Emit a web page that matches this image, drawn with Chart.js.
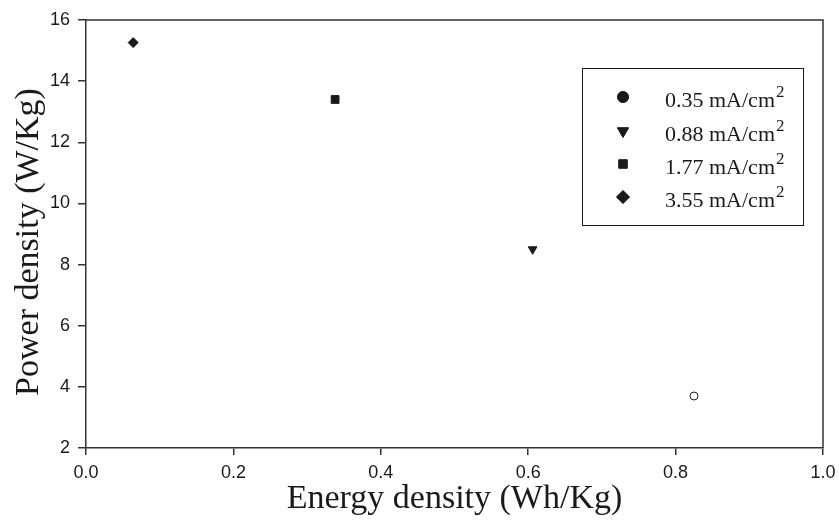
<!DOCTYPE html>
<html>
<head>
<meta charset="utf-8">
<script src="https://cdn.jsdelivr.net/npm/chart.js@4.4.1/dist/chart.umd.min.js"></script>
<style>
  html, body { margin: 0; padding: 0; background: #fff; }
  #wrap { width: 839px; height: 520px; position: relative; }
</style>
</head>
<body>
<div id="wrap"><canvas id="c" width="839" height="520"></canvas></div>
<script>
// Current densities (legend labels) and measured energy / power densities
const currentLabels = ['0.35 mA/cm', '0.88 mA/cm', '1.77 mA/cm', '3.55 mA/cm'];
const energyDensity = [0.825, 0.606, 0.338, 0.064];   // Wh/Kg
const powerDensity  = [3.7, 8.5, 13.4, 15.26];         // W/Kg
const markerStyles  = ['circle', 'triangle', 'rect', 'rectRot'];
const xTicks = [0.0, 0.2, 0.4, 0.6, 0.8, 1.0];
const yTicks = [2, 4, 6, 8, 10, 12, 14, 16];

const ink = '#1a1a1a';
const axisInk = '#333333';

const pointRadius = [4, 5, 5.5, 5];
const legendRadius = [5.5, 6.5, 6, 6.5];

const datasets = currentLabels.map((lab, i) => ({
  label: lab,
  data: [{ x: energyDensity[i], y: powerDensity[i] }],
  pointStyle: markerStyles[i],
  rotation: markerStyles[i] === 'triangle' ? 180 : 0,
  pointRadius: pointRadius[i],
  pointHoverRadius: pointRadius[i],
  backgroundColor: i === 0 ? '#ffffff' : ink,
  borderColor: ink,
  borderWidth: 1,
  showLine: false
}));

const serif = '"Liberation Serif", "Times New Roman", serif';
const sans = '"Liberation Sans", Arial, sans-serif';

// Frame on top/right, the y-axis title, and the boxed legend with superscript units
const framePlugin = {
  id: 'frameAndLegend',
  afterDraw(chart) {
    const { ctx, chartArea: a } = chart;
    ctx.save();
    ctx.strokeStyle = axisInk;
    ctx.lineWidth = 1.5;
    ctx.beginPath();
    ctx.moveTo(a.left, a.top);
    ctx.lineTo(a.right, a.top);
    ctx.lineTo(a.right, a.bottom);
    ctx.stroke();

    // y-axis title
    ctx.save();
    ctx.translate(29, (a.top + a.bottom) / 2 + 8);
    ctx.rotate(-Math.PI / 2);
    ctx.font = '34px ' + serif;
    ctx.fillStyle = ink;
    ctx.textAlign = 'center';
    ctx.textBaseline = 'middle';
    ctx.fillText('Power density (W/Kg)', 0, 0);
    ctx.restore();

    // legend box
    const bx = 582, by = 68, bw = 221, bh = 157;
    ctx.lineWidth = 1;
    ctx.strokeStyle = ink;
    ctx.strokeRect(bx + 0.5, by + 0.5, bw, bh);

    const rowY = [97, 131, 164, 197];
    currentLabels.forEach((lab, i) => {
      Chart.helpers.drawPoint(ctx, {
        pointStyle: markerStyles[i],
        rotation: markerStyles[i] === 'triangle' ? 180 : 0,
        radius: legendRadius[i],
        borderWidth: 1
      }, 623, rowY[i]);
      ctx.fillStyle = ink;
      ctx.strokeStyle = ink;
      ctx.fill();
      ctx.font = '22px ' + serif;
      ctx.textBaseline = 'middle';
      ctx.textAlign = 'left';
      ctx.fillText(lab, 665, rowY[i] + 4);
      const w = ctx.measureText(lab).width;
      ctx.font = '17px ' + serif;
      ctx.fillText('2', 665 + w + 1, rowY[i] - 4);
    });
    ctx.restore();
  }
};

new Chart(document.getElementById('c'), {
  type: 'scatter',
  data: { datasets },
  options: {
    responsive: false,
    animation: false,
    events: [],
    layout: { padding: { top: 20, right: 16, left: 0, bottom: 0 } },
    plugins: { legend: { display: false }, tooltip: { enabled: false } },
    scales: {
      x: {
        type: 'linear',
        min: 0, max: 1,
        afterBuildTicks: s => { s.ticks = xTicks.map(v => ({ value: v })); },
        afterFit: s => { s.height = 72; s.paddingRight = 0; s.paddingLeft = 0; },
        ticks: {
          callback: v => Number(v).toFixed(1),
          font: { family: sans, size: 18 },
          color: ink,
          padding: 7
        },
        grid: { drawOnChartArea: false, drawTicks: true, tickLength: 7, color: axisInk, lineWidth: 1.5 },
        border: { display: true, color: axisInk, width: 1.5 },
        title: {
          display: true,
          text: 'Energy density (Wh/Kg)',
          font: { family: serif, size: 34 },
          color: ink,
          padding: { top: 0, bottom: 1 }
        }
      },
      y: {
        type: 'linear',
        min: 2, max: 16,
        afterBuildTicks: s => { s.ticks = yTicks.map(v => ({ value: v })); },
        afterFit: s => { s.width = 86; s.paddingTop = 0; s.paddingBottom = 0; },
        ticks: {
          font: { family: sans, size: 18 },
          color: ink,
          padding: 8
        },
        grid: { drawOnChartArea: false, drawTicks: true, tickLength: 8, color: axisInk, lineWidth: 1.5 },
        border: { display: true, color: axisInk, width: 1.5 },
        title: { display: false }
      }
    }
  },
  plugins: [framePlugin]
});
</script>
</body>
</html>
